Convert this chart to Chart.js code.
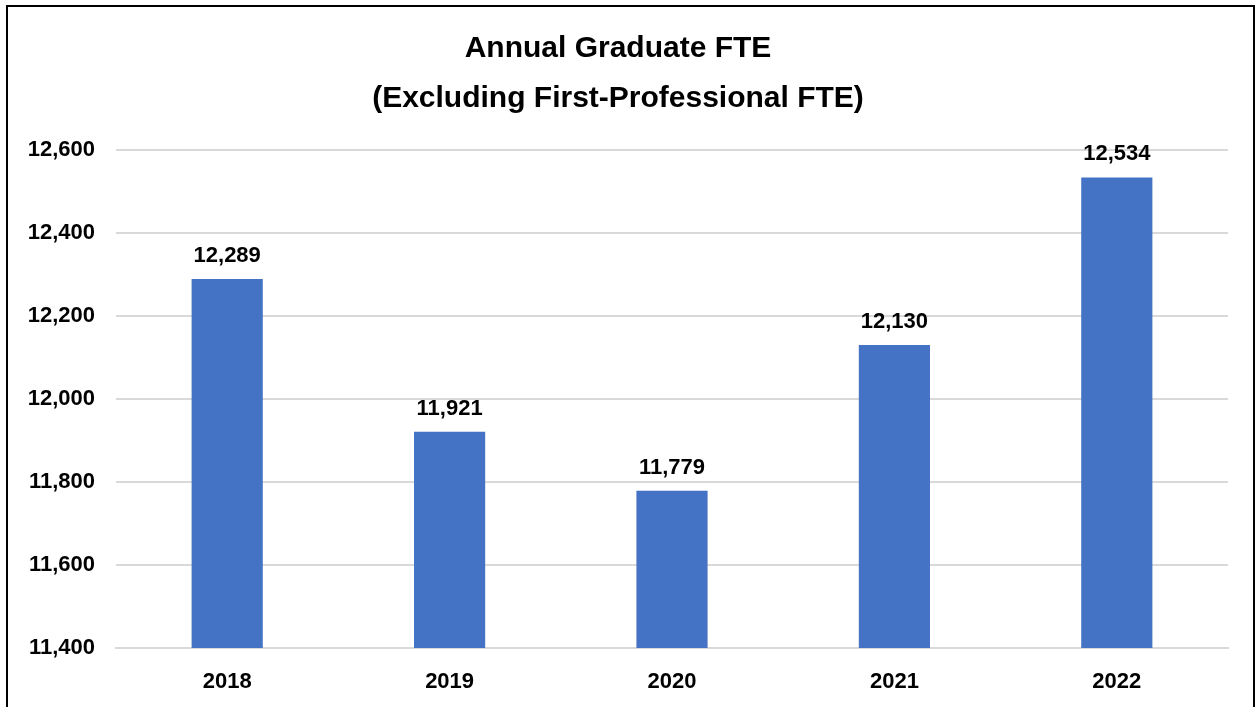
<!DOCTYPE html>
<html lang="en">
<head>
    <meta charset="UTF-8">
    <title>Annual Graduate FTE</title>
    <script src="https://cdn.jsdelivr.net/npm/chart.js@4.4.0/dist/chart.umd.min.js"></script>
    <style>
        html, body { margin: 0; padding: 0; background: #fff; overflow: hidden; }
        #frame {
            position: absolute; left: 6px; top: 5px;
            width: 1245px; height: 710px;
            border: 2px solid #000; border-bottom: none;
        }
        #chart { display: block; }
    </style>
</head>
<body>
    <div id="frame">
        <canvas id="chart" width="1245" height="700"></canvas>
    </div>

    <script>
        // values
        const years = ['2018', '2019', '2020', '2021', '2022'];
        const fte = [12289, 11921, 11779, 12130, 12534];
        const titleLines = ['Annual Graduate FTE', '(Excluding First-Professional FTE)'];

        const FONT = "'Liberation Sans', Arial, sans-serif";

        // numbers above each bar
        const barLabels = {
            id: 'barLabels',
            afterDatasetsDraw(chart) {
                const ctx = chart.ctx;
                const meta = chart.getDatasetMeta(0);
                ctx.save();
                ctx.font = 'bold 22px ' + FONT;
                ctx.fillStyle = '#000';
                ctx.textAlign = 'center';
                ctx.textBaseline = 'alphabetic';
                meta.data.forEach((bar, i) => {
                    ctx.fillText(fte[i].toLocaleString('en-US'), bar.x, bar.y - 17);
                });
                ctx.restore();
            }
        };

        const ctx = document.getElementById('chart').getContext('2d');
        new Chart(ctx, {
            type: 'bar',
            data: {
                labels: years,
                datasets: [{
                    data: fte,
                    backgroundColor: '#4472C4',
                    borderWidth: 0,
                    categoryPercentage: 1,
                    barPercentage: 0.32
                }]
            },
            options: {
                responsive: false,
                animation: false,
                layout: { padding: { top: 0, right: 25, bottom: 15, left: 0 } },
                plugins: {
                    legend: { display: false },
                    tooltip: { enabled: false },
                    title: {
                        display: true,
                        text: titleLines,
                        color: '#000',
                        font: { family: FONT, size: 30, weight: 'bold', lineHeight: 1.667 },
                        padding: { top: 17, bottom: 26 }
                    }
                },
                scales: {
                    x: {
                        grid: { display: false, drawTicks: false },
                        border: { display: true, color: '#d9d9d9', width: 2 },
                        afterFit(scale) { scale.height = 44; },
                        ticks: {
                            color: '#000',
                            padding: 21,
                            font: { family: FONT, size: 22, weight: 'bold' }
                        }
                    },
                    y: {
                        min: 11400,
                        max: 12600,
                        grid: { color: '#d9d9d9', lineWidth: 2, drawTicks: false },
                        border: { display: false },
                        afterFit(scale) { scale.width = 108; },
                        ticks: {
                            stepSize: 200,
                            color: '#000',
                            padding: 21,
                            font: { family: FONT, size: 22, weight: 'bold' },
                            callback: function(value) {
                                return value.toLocaleString('en-US');
                            }
                        }
                    }
                }
            },
            plugins: [barLabels]
        });
    </script>
</body>
</html>
